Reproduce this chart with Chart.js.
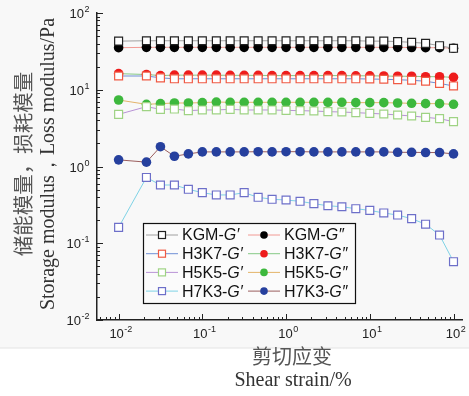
<!DOCTYPE html>
<html>
<head>
<meta charset="utf-8">
<script src="https://cdn.jsdelivr.net/npm/chart.js@4/dist/chart.umd.min.js"></script>
<style>
  html, body { margin: 0; padding: 0; background: #fff; }
  #c { display: block; }
</style>
</head>
<body>
<canvas id="c" width="469" height="396"></canvas>
<script>
// Shear strain (%) for every measured point
const strain = [0.01, 0.0215, 0.0316, 0.0464, 0.0681, 0.1, 0.147, 0.215, 0.316, 0.464, 0.681,
  1, 1.47, 2.15, 3.16, 4.64, 6.81, 10, 14.7, 21.5, 31.6, 46.4, 68.1, 100];

// Storage modulus G' and loss modulus G'' (Pa)
const kgmStorage = [43, 43.5, 43.5, 43.5, 43.5, 43.5, 43.5, 43.5, 43.5, 43.5, 43.5, 43.5,
  43.5, 43.5, 43.5, 43.5, 43.5, 43, 43, 42.4, 41.5, 40.3, 37.5, 34.7];
const kgmLoss = [35.3, 35.7, 35.7, 35.7, 35.7, 35.7, 35.7, 35.7, 35.7, 35.7, 35.7, 35.7,
  35.7, 35.7, 35.7, 35.7, 35.7, 35.7, 35.7, 35.7, 35.5, 35.3, 35.3, 34.7];
const h3k7Storage = [15.1, 15.1, 14.3, 13.9, 13.9, 13.9, 13.9, 13.9, 13.9, 13.9, 13.9, 13.9,
  13.9, 13.9, 13.9, 13.9, 13.9, 13.8, 13.7, 13.5, 13.3, 12.9, 12.1, 11.2];
const h3k7Loss = [16.2, 15.8, 15.3, 15.5, 15.5, 15.5, 15.5, 15.4, 15.4, 15.4, 15.3, 15.3,
  15.3, 15.3, 15.3, 15.3, 15.2, 15.2, 15.1, 15.0, 15.0, 14.8, 14.8, 14.5];
const h5k5Storage = [4.78, 6.02, 5.56, 5.61, 5.34, 5.45, 5.45, 5.56, 5.45, 5.45, 5.45, 5.39,
  5.34, 5.29, 5.18, 5.13, 5.03, 4.93, 4.83, 4.69, 4.55, 4.37, 4.2, 3.84];
const h5k5Loss = [7.35, 6.46, 6.59, 6.72, 6.72, 6.79, 6.92, 6.86, 6.86, 6.86, 6.86, 6.86,
  6.86, 6.86, 6.86, 6.86, 6.79, 6.79, 6.79, 6.72, 6.66, 6.59, 6.59, 6.46];
const h7k3Storage = [0.161, 0.72, 0.574, 0.574, 0.505, 0.456, 0.426, 0.426, 0.456, 0.397, 0.374, 0.366,
  0.352, 0.328, 0.308, 0.299, 0.282, 0.268, 0.248, 0.233, 0.209, 0.177, 0.128, 0.0575];
const h7k3Loss = [1.22, 1.14, 1.81, 1.36, 1.46, 1.55, 1.55, 1.55, 1.55, 1.56, 1.55, 1.56,
  1.56, 1.55, 1.55, 1.55, 1.55, 1.55, 1.55, 1.53, 1.53, 1.52, 1.52, 1.46];

const tickExponents = [-2, -1, 0, 1, 2];

const series = [
  { name: 'KGM', mod: '′', data: kgmStorage, line: '#a0a0a0', mark: '#222', filled: false },
  { name: 'KGM', mod: '″', data: kgmLoss, line: '#f29a94', mark: '#000', filled: true },
  { name: 'H3K7', mod: '′', data: h3k7Storage, line: '#6f8fd6', mark: '#ef5a44', filled: false },
  { name: 'H3K7', mod: '″', data: h3k7Loss, line: '#86c986', mark: '#ee1c1c', filled: true },
  { name: 'H5K5', mod: '′', data: h5k5Storage, line: '#b993d6', mark: '#9fd384', filled: false },
  { name: 'H5K5', mod: '″', data: h5k5Loss, line: '#e4b46a', mark: '#3db83d', filled: true },
  { name: 'H7K3', mod: '′', data: h7k3Storage, line: '#7fd3e6', mark: '#6d6fc9', filled: false },
  { name: 'H7K3', mod: '″', data: h7k3Loss, line: '#9b5e5e', mark: '#26409e', filled: true }
];

const datasets = series.map(s => ({
  label: s.name + '-G' + s.mod,
  data: strain.map((x, i) => ({ x: x, y: s.data[i] })),
  borderColor: s.line,
  borderWidth: 1,
  pointStyle: s.filled ? 'circle' : 'rect',
  pointRadius: s.filled ? 4.8 : 5.6,
  pointBorderWidth: s.filled ? 0 : 1.2,
  pointBorderColor: s.mark,
  pointBackgroundColor: s.filled ? s.mark : '#fff',
  tension: 0
}));

// background: light grey figure area, white strip below
const backdrop = {
  id: 'backdrop',
  beforeDraw(chart) {
    const ctx = chart.ctx;
    ctx.save();
    ctx.fillStyle = '#fff';
    ctx.fillRect(0, 0, chart.width, chart.height);
    ctx.fillStyle = '#f8f8f8';
    ctx.fillRect(0, 0, chart.width, 348);
    ctx.fillStyle = '#e4e4e4';
    ctx.fillRect(0, 347.5, chart.width, 1);
    ctx.restore();
  }
};

function powerLabel(ctx, e, x, y, align) {
  const base = '10', exp = String(e);
  ctx.font = '13px "Liberation Sans", Arial, sans-serif';
  const wb = ctx.measureText(base).width;
  ctx.font = '9px "Liberation Sans", Arial, sans-serif';
  const we = ctx.measureText(exp).width;
  const total = wb + we;
  const x0 = align === 'right' ? x - total : x - total / 2 + 2;
  ctx.fillStyle = '#222';
  ctx.textAlign = 'left';
  ctx.textBaseline = 'alphabetic';
  ctx.font = '13px "Liberation Sans", Arial, sans-serif';
  ctx.fillText(base, x0, y + 5);
  ctx.font = '9px "Liberation Sans", Arial, sans-serif';
  ctx.fillText(exp, x0 + wb + 0.5, y - 1);
}

const axisDecor = {
  id: 'axisDecor',
  afterDraw(chart) {
    const ctx = chart.ctx, a = chart.chartArea;
    const xs = chart.scales.x, ys = chart.scales.y;
    ctx.save();
    // inward ticks
    ctx.strokeStyle = '#222';
    ctx.lineWidth = 1;
    ctx.beginPath();
    for (let e = -3; e <= 2; e++) {
      for (let m = 1; m <= 9; m++) {
        const v = m * Math.pow(10, e);
        const len = m === 1 ? 6 : 3;
        if (v >= xs.min && v <= xs.max) {
          const px = Math.round(xs.getPixelForValue(v)) + 0.5;
          ctx.moveTo(px, a.bottom);
          ctx.lineTo(px, a.bottom - len);
        }
        if (v >= ys.min && v <= ys.max) {
          const py = Math.round(ys.getPixelForValue(v)) + 0.5;
          ctx.moveTo(a.left, py);
          ctx.lineTo(a.left + len, py);
        }
      }
    }
    ctx.stroke();

    tickExponents.forEach(e => {
      const v = Math.pow(10, e);
      powerLabel(ctx, e, xs.getPixelForValue(v), 333, 'center');
      powerLabel(ctx, e, 89, ys.getPixelForValue(v), 'right');
    });

    // axis titles
    ctx.textAlign = 'center';
    ctx.textBaseline = 'middle';
    ctx.fillStyle = '#555';
    ctx.font = '20px "Noto Sans CJK SC", sans-serif';
    ctx.fillText('剪切应变', 292, 356);
    ctx.fillStyle = '#333';
    ctx.font = '20px "Liberation Serif", "Times New Roman", serif';
    ctx.fillText('Shear strain/%', 293, 381);

    ctx.save();
    ctx.translate(23, 164);
    ctx.rotate(-Math.PI / 2);
    ctx.fillStyle = '#555';
    ctx.font = '20.5px "Noto Sans CJK SC", sans-serif';
    ctx.fillText('储能模量，损耗模量', 0, 0);
    ctx.restore();

    ctx.save();
    ctx.translate(49, 164);
    ctx.rotate(-Math.PI / 2);
    ctx.fillStyle = '#333';
    ctx.font = '20px "Liberation Serif", "Times New Roman", serif';
    ctx.fillText('Storage modulus，Loss modulus/Pa', 0, 0);
    ctx.restore();

    // legend box
    const box = { x: 143.5, y: 223.5, w: 212, h: 80 };
    ctx.fillStyle = '#fbfbfb';
    ctx.fillRect(box.x, box.y, box.w, box.h);
    ctx.strokeStyle = '#111';
    ctx.lineWidth = 1.2;
    ctx.strokeRect(box.x, box.y, box.w, box.h);
    chart.data.datasets.forEach((ds, i) => {
      const col = i % 2, row = Math.floor(i / 2);
      const lx = col === 0 ? 146 : 248;
      const ly = 235 + row * 18.7;
      ctx.strokeStyle = ds.borderColor;
      ctx.lineWidth = 1;
      ctx.beginPath();
      ctx.moveTo(lx, ly);
      ctx.lineTo(lx + 32, ly);
      ctx.stroke();
      const mx = lx + 16;
      if (ds.pointStyle === 'rect') {
        ctx.fillStyle = '#fff';
        ctx.fillRect(mx - 3.5, ly - 3.5, 7, 7);
        ctx.strokeStyle = ds.pointBorderColor;
        ctx.lineWidth = 1.2;
        ctx.strokeRect(mx - 3.5, ly - 3.5, 7, 7);
      } else {
        ctx.fillStyle = ds.pointBackgroundColor;
        ctx.beginPath();
        ctx.arc(mx, ly, 3.8, 0, Math.PI * 2);
        ctx.fill();
      }
      const s = series[i];
      ctx.fillStyle = '#111';
      ctx.textAlign = 'left';
      ctx.textBaseline = 'middle';
      ctx.font = '16px "Liberation Sans", Arial, sans-serif';
      const tx = lx + 36;
      const pre = s.name + '-';
      ctx.fillText(pre, tx, ly + 1);
      const w = ctx.measureText(pre).width;
      ctx.font = 'italic 16px "Liberation Sans", Arial, sans-serif';
      ctx.fillText('G' + s.mod, tx + w, ly + 1);
    });
    ctx.restore();
  }
};

new Chart(document.getElementById('c'), {
  type: 'line',
  data: { datasets: datasets },
  options: {
    responsive: false,
    animation: false,
    devicePixelRatio: 1,
    layout: { padding: { left: 97, top: 13, right: 0, bottom: 76 } },
    plugins: { legend: { display: false }, tooltip: { enabled: false } },
    scales: {
      x: {
        type: 'logarithmic',
        min: 0.00552,
        max: 127,
        ticks: { display: false },
        grid: { display: true, drawOnChartArea: false, drawTicks: false },
        border: { display: true, color: '#222', width: 1.5 },
        afterFit(scale) { scale.height = 0; }
      },
      y: {
        type: 'logarithmic',
        min: 0.01,
        max: 100,
        ticks: { display: false },
        grid: { display: true, drawOnChartArea: false, drawTicks: false },
        border: { display: true, color: '#222', width: 1.5 },
        afterFit(scale) { scale.width = 0; }
      }
    }
  },
  plugins: [backdrop, axisDecor]
});
</script>
</body>
</html>
